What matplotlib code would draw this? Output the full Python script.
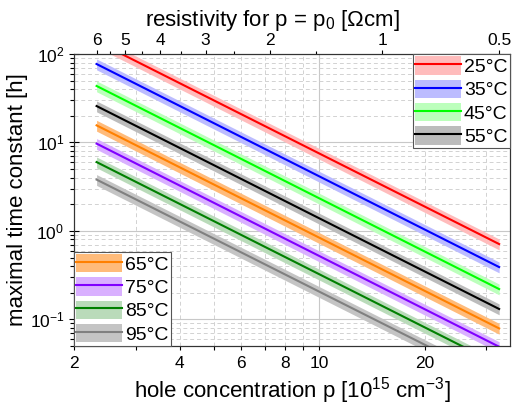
import numpy as np
import matplotlib
matplotlib.use("Agg")
import matplotlib.pyplot as plt
from matplotlib.patches import Patch
from matplotlib.lines import Line2D
from matplotlib.ticker import LogLocator, FuncFormatter, NullFormatter, FixedLocator

plt.rcParams['font.family'] = ['Liberation Sans', 'DejaVu Sans']
plt.rcParams['mathtext.fontset'] = 'custom'
plt.rcParams['mathtext.rm'] = 'Liberation Sans'
plt.rcParams['mathtext.it'] = 'Liberation Sans:italic'

# data ------------------------------------------------------------------------
temps = ["25°C", "35°C", "45°C", "55°C", "65°C", "75°C", "85°C", "95°C"]
p_range = [2.32, 32.6]  # hole concentration [1e15 cm^-3], ends of every curve
tau_start = [139, 77, 43.5, 25.8, 15.6, 9.7, 6.0, 3.8]  # tau [h] at p_range[0]
tau_end = [0.71, 0.39, 0.22, 0.131, 0.079, 0.049, 0.0306, 0.0195]  # tau [h] at p_range[1]
rel_err = 0.14  # width of the shaded band

rho_labels = [6, 5, 4, 3, 2, 1, 0.5]
rho_minor = [5.5, 4.5, 3.5, 2.5, 1.5]

line_colors = ['#ff0000', '#0000ff', '#00ff00', '#000000',
               '#ff8000', '#8000ff', '#008000', '#808080']
band_colors = ['#ffbcbc', '#bcbcff', '#bcffbc', '#bcbcbc',
               '#ffbb7a', '#d9b0ff', '#badbba', '#c4c4c4']


# hole mobility in Si (Caughey-Thomas type), for the resistivity axis
def rho_of_p(p):
    N = np.asarray(p) * 1e15
    mu = 54.3 + 406.7 / (1 + (N / 2.34e17) ** 0.73)
    return 1.0 / (1.602e-19 * N * mu)


p_grid = np.logspace(0, 2, 2000)
rho_grid = rho_of_p(p_grid)


def p_of_rho(r):
    return np.interp(r, rho_grid[::-1], p_grid[::-1])


fig = plt.figure(figsize=(5.12, 4.05), dpi=100)
ax = fig.add_axes([0.1445, 0.1457, 0.8515, 0.721])

handles = []
for i in range(len(temps)):
    y = np.array([tau_start[i], tau_end[i]])
    ax.fill_between(p_range, y * (1 - rel_err), y * (1 + rel_err),
                    color=band_colors[i], lw=0, zorder=2)
    ax.plot(p_range, y, color=line_colors[i], lw=1.5, zorder=3)
    handles.append((Patch(facecolor=band_colors[i], edgecolor='none'),
                    Line2D([], [], color=line_colors[i], lw=1.5)))

ax.set_xscale('log')
ax.set_yscale('log')
ax.set_xlim(2, 35)
ax.set_ylim(0.05, 100)

# x ticks: labels at 2,4,6,8,10,20
ax.xaxis.set_major_locator(LogLocator(base=10))
ax.xaxis.set_minor_locator(LogLocator(base=10, subs=np.arange(2, 10)))
ax.xaxis.set_major_formatter(FuncFormatter(lambda v, _: f"{v:g}"))
ax.xaxis.set_minor_formatter(FuncFormatter(
    lambda v, _: f"{v:g}" if round(v) in (2, 4, 6, 8, 20) else ""))
ax.yaxis.set_minor_locator(LogLocator(base=10, subs=np.arange(2, 10)))
ax.yaxis.set_minor_formatter(NullFormatter())

ax.tick_params(axis='x', which='both', direction='out', length=3, width=0.8,
               labelsize=12.5, pad=4)
ax.tick_params(axis='y', which='major', direction='inout', length=7, width=0.8,
               labelsize=12.5)
ax.tick_params(axis='y', which='minor', direction='out', length=3, width=0.8)

ax.set_axisbelow(True)
ax.grid(which='major', color='#c8c8c8', ls='-', lw=0.8)
ax.grid(which='minor', color='#d2d2d2', ls=(0, (4, 3)), lw=0.7)

ax.set_xlabel("hole concentration p [10$^{15}$ cm$^{-3}$]", fontsize=16, labelpad=3)
ax.set_ylabel("maximal time constant [h]", fontsize=16, labelpad=1)

for s in ax.spines.values():
    s.set_linewidth(0.8)
    s.set_color('#333333')

# top axis: resistivity
ax2 = ax.twiny()
ax2.set_xscale('log')
ax2.set_xlim(ax.get_xlim())
ax2.xaxis.set_major_locator(FixedLocator(p_of_rho(rho_labels)))
ax2.xaxis.set_major_formatter(FuncFormatter(
    lambda v, pos: f"{rho_labels[pos]:g}" if pos is not None else ""))
ax2.xaxis.set_minor_locator(FixedLocator(p_of_rho(rho_minor)))
ax2.xaxis.set_minor_formatter(NullFormatter())
ax2.tick_params(axis='x', which='major', direction='out', length=3, width=0.8,
                labelsize=12.5, pad=1.5)
ax2.tick_params(axis='x', which='minor', direction='out', length=2, width=0.8)
ax2.set_xlabel("resistivity for p = p$_0$ [Ωcm]", fontsize=16, labelpad=5)
ax2.xaxis.label.set_x(0.454)
for s in ax2.spines.values():
    s.set_linewidth(0.8)
    s.set_color('#333333')

leg_kw = dict(fontsize=14, handlelength=2.35, handleheight=1.08,
              labelspacing=0.18, handletextpad=0.15, borderpad=0.12,
              borderaxespad=0, fancybox=False, framealpha=1,
              edgecolor='#555555')
leg1 = ax2.legend(handles[:4], temps[:4], loc='upper right', **leg_kw)
leg1.get_frame().set_linewidth(0.8)
ax2.add_artist(leg1)
leg2 = ax2.legend(handles[4:], temps[4:], loc='lower left', **leg_kw)
leg2.get_frame().set_linewidth(0.8)

fig.savefig("out.png", dpi=100)
